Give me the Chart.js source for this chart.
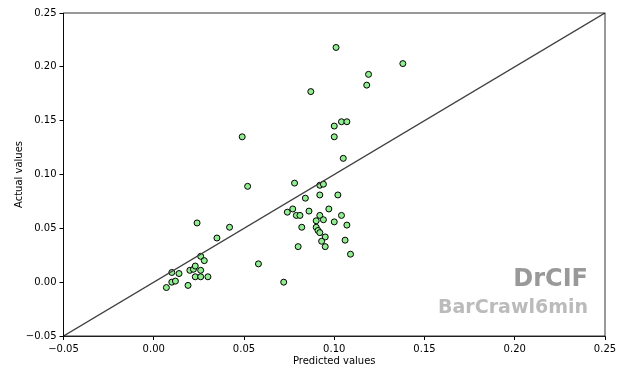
<!DOCTYPE html>
<html>
<head>
<meta charset="utf-8">
<script src="https://cdn.jsdelivr.net/npm/chart.js@4/dist/chart.umd.min.js"></script>
<style>
  html, body { margin: 0; padding: 0; background: #fff; }
  #wrap { width: 623px; height: 367px; }
</style>
</head>
<body>
<div id="wrap"><canvas id="chart" width="623" height="367"></canvas></div>
<script>
// predicted vs actual
const predicted = [
    0.101, 0.138, 0.119, 0.118, 0.087, 0.104, 0.107, 0.100, 0.100, 0.049,
    0.105, 0.052, 0.078, 0.092, 0.094, 0.084, 0.092, 0.102, 0.074, 0.077,
    0.079, 0.081, 0.086, 0.097, 0.092, 0.090, 0.094, 0.104, 0.100, 0.107,
    0.082, 0.090, 0.091, 0.092, 0.095, 0.093, 0.106, 0.080, 0.095, 0.109,
    0.024, 0.042, 0.035, 0.026, 0.028, 0.010, 0.014, 0.020, 0.022, 0.023,
    0.026, 0.023, 0.026, 0.030, 0.010, 0.012, 0.007, 0.019, 0.058, 0.072
];
const actual = [
    0.218, 0.203, 0.193, 0.183, 0.177, 0.149, 0.149, 0.145, 0.135, 0.135,
    0.115, 0.089, 0.092, 0.090, 0.091, 0.078, 0.081, 0.081, 0.065, 0.068,
    0.062, 0.062, 0.066, 0.068, 0.062, 0.057, 0.058, 0.062, 0.056, 0.053,
    0.051, 0.051, 0.048, 0.046, 0.042, 0.038, 0.039, 0.033, 0.033, 0.026,
    0.055, 0.051, 0.041, 0.024, 0.020, 0.009, 0.008, 0.011, 0.012, 0.015,
    0.011, 0.005, 0.005, 0.005, 0.000, 0.001, -0.005, -0.003, 0.017, 0.000
];
const diagonal = [-0.05, 0.25];
const tickValues = [-0.05, 0.00, 0.05, 0.10, 0.15, 0.20, 0.25];

const fmt = v => {
    const s = Math.abs(v).toFixed(2);
    return v < -1e-9 ? '\u2212' + s : s;
};

// frame + watermark text
const extras = {
    id: 'extras',
    afterDatasetsDraw(chart) {
        const { ctx, chartArea: a } = chart;
        ctx.save();
        ctx.strokeStyle = '#000';
        ctx.lineWidth = 0.8;
        ctx.strokeRect(a.left, a.top, a.right - a.left, a.bottom - a.top);
        ctx.textAlign = 'right';
        ctx.textBaseline = 'middle';
        ctx.fillStyle = '#999999';
        ctx.font = 'bold 24px "DejaVu Sans"';
        ctx.fillText('DrCIF', 588, 280);
        ctx.fillStyle = '#bbbbbb';
        ctx.font = 'bold 19px "DejaVu Sans"';
        ctx.fillText('BarCrawl6min', 588, 308);
        ctx.restore();
    }
};

const ctx = document.getElementById('chart').getContext('2d');
new Chart(ctx, {
    type: 'scatter',
    data: {
        datasets: [
            {
                type: 'line',
                data: diagonal.map(v => ({ x: v, y: v })),
                borderColor: '#404040',
                borderWidth: 1.4,
                pointRadius: 0,
                fill: false
            },
            {
                data: predicted.map((p, i) => ({ x: p, y: actual[i] })),
                backgroundColor: '#90ee90',
                borderColor: '#000000',
                borderWidth: 1,
                pointRadius: 3
            }
        ]
    },
    options: {
        responsive: false,
        animation: false,
        layout: { padding: { left: 0, right: 18, top: 13, bottom: 0 } },
        plugins: { legend: { display: false }, tooltip: { enabled: false } },
        scales: {
            x: {
                type: 'linear',
                min: -0.05, max: 0.25,
                afterBuildTicks: s => { s.ticks = tickValues.map(v => ({ value: v })); },
                afterFit: s => { s.height = 31; },
                grid: { drawOnChartArea: false, drawTicks: true, tickLength: 4, color: '#000' },
                border: { display: true, color: '#000', width: 0.8 },
                ticks: {
                    color: '#000', padding: 3,
                    font: { family: 'DejaVu Sans', size: 10 },
                    callback: v => fmt(v), maxRotation: 0
                },
                title: {
                    display: true, text: 'Predicted values', color: '#000',
                    font: { family: 'DejaVu Sans', size: 10 }, padding: 0
                }
            },
            y: {
                type: 'linear',
                min: -0.05, max: 0.25,
                afterBuildTicks: s => { s.ticks = tickValues.map(v => ({ value: v })); },
                afterFit: s => { s.width = 63.5; },
                grid: { drawOnChartArea: false, drawTicks: true, tickLength: 4, color: '#000' },
                border: { display: true, color: '#000', width: 0.8 },
                ticks: {
                    color: '#000', padding: 3,
                    font: { family: 'DejaVu Sans', size: 10 },
                    callback: v => fmt(v)
                },
                title: {
                    display: true, text: 'Actual values', color: '#000',
                    font: { family: 'DejaVu Sans', size: 10 }, padding: { top: 13, bottom: 6 }
                }
            }
        }
    },
    plugins: [extras]
});
</script>
</body>
</html>
